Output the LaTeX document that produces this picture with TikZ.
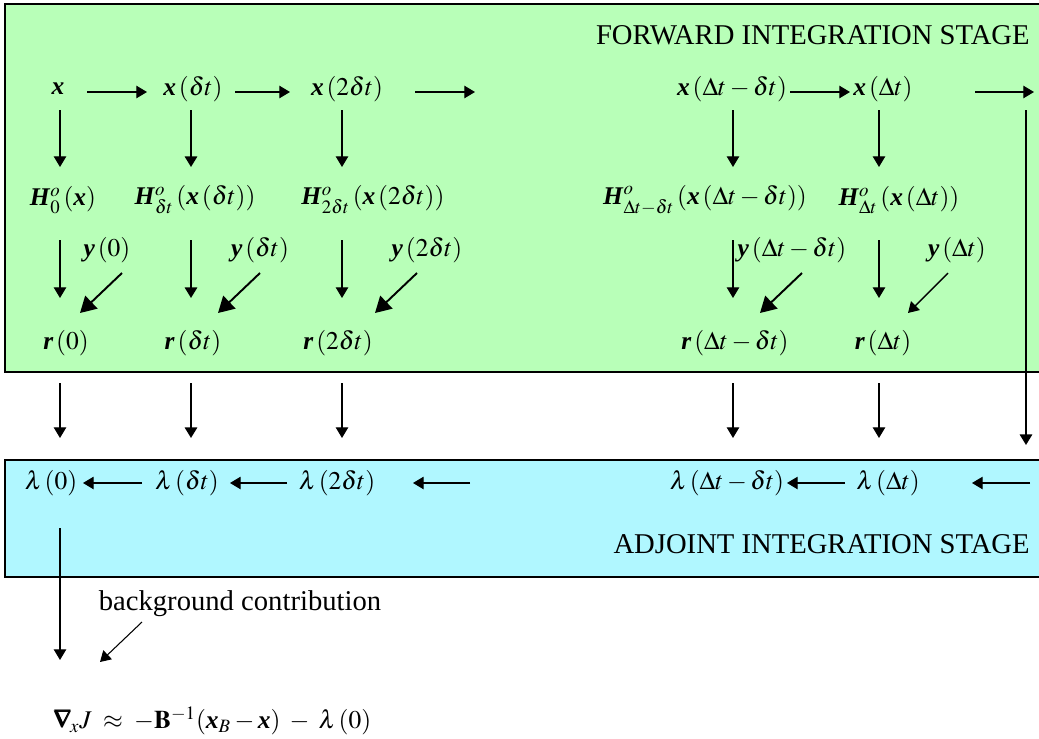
\documentclass[tikz,border=0pt]{standalone}
\usepackage{mathptmx}
\usepackage{bm}
\usepackage{fontspec}
\setmainfont{Liberation Serif}
\usetikzlibrary{arrows.meta,calc}
\definecolor{fwdgreen}{RGB}{184,255,184}
\definecolor{adjcyan}{RGB}{176,247,255}
\newcommand{\bv}[1]{\textbf{\textit{#1}}}

\begin{document}
\begin{tikzpicture}[x=0.02cm, y=-0.02cm, font=\fontsize{14.5}{17}\selectfont]
    \tikzset{lbl/.style={inner sep=0pt},
             word/.style={inner sep=0pt, font=\fontsize{16.3}{19}\selectfont},
             arr/.style={-{Triangle[length=6pt,width=7pt]}, line width=0.6pt},
             tarr/.style={-{Triangle[length=6pt,width=7pt]}, line width=1.1pt},
             diag/.style={-{Triangle[length=9pt,width=10pt]}, line width=1.1pt}}
    \useasboundingbox (0,0) rectangle (1039,738);
    \clip (0,0) rectangle (1039,738);

    % ---- Stage boxes ----
    \draw[fill=fwdgreen, line width=1.1pt] (5,4) rectangle (1060,372);
    \draw[fill=adjcyan, line width=1.1pt] (5,460) rectangle (1060,577);
    \node[word, anchor=east] (fwd) at (1030,35) {FORWARD INTEGRATION STAGE};
    \node[word, anchor=east] (adj) at (1030,544) {ADJOINT INTEGRATION STAGE};

    % ---- Forward states ----
    \node[lbl] (x0) at (58,89) {$\bv{x}$};
    \node[lbl] (x1) at (193,89) {$\bv{x}\,(\delta t)$};
    \node[lbl] (x2) at (347,89) {$\bv{x}\,(2\delta t)$};
    \node[lbl] (xm) at (732,89) {$\bv{x}\,(\Delta t-\delta t)$};
    \node[lbl] (xn) at (883,89) {$\bv{x}\,(\Delta t)$};
    \coordinate (xgap) at (475,92);
    \coordinate (xend) at (1034,92);

    % ---- Observation operators ----
    \node[lbl] (h0) at (63,200) {$\bv{H}^{o}_{0}\,(\bv{x})$};
    \node[lbl] (h1) at (195,200) {$\bv{H}^{o}_{\delta t}\,(\bv{x}\,(\delta t))$};
    \node[lbl] (h2) at (373,200) {$\bv{H}^{o}_{2\delta t}\,(\bv{x}\,(2\delta t))$};
    \node[lbl] (hm) at (705,200) {$\bv{H}^{o}_{\Delta t-\delta t}\,(\bv{x}\,(\Delta t-\delta t))$};
    \node[lbl] (hn) at (899,200) {$\bv{H}^{o}_{\Delta t}\,(\bv{x}\,(\Delta t))$};

    % ---- Observations ----
    \node[lbl] (y0) at (107,250) {$\bv{y}\,(0)$};
    \node[lbl] (y1) at (260,250) {$\bv{y}\,(\delta t)$};
    \node[lbl] (y2) at (427,250) {$\bv{y}\,(2\delta t)$};
    \node[lbl] (ym) at (792,250) {$\bv{y}\,(\Delta t-\delta t)$};
    \node[lbl] (yn) at (957,250) {$\bv{y}\,(\Delta t)$};

    % ---- Residuals ----
    \node[lbl] (r0) at (66,343) {$\bv{r}\,(0)$};
    \node[lbl] (r1) at (193,343) {$\bv{r}\,(\delta t)$};
    \node[lbl] (r2) at (338,343) {$\bv{r}\,(2\delta t)$};
    \node[lbl] (rm) at (735,343) {$\bv{r}\,(\Delta t-\delta t)$};
    \node[lbl] (rn) at (883,343) {$\bv{r}\,(\Delta t)$};

    % ---- Adjoint states ----
    \node[lbl] (l0) at (51,483) {$\lambda\,(0)$};
    \node[lbl] (l1) at (187,483) {$\lambda\,(\delta t)$};
    \node[lbl] (l2) at (337,483) {$\lambda\,(2\delta t)$};
    \node[lbl] (lm) at (727,483) {$\lambda\,(\Delta t-\delta t)$};
    \node[lbl] (ln) at (888,483) {$\lambda\,(\Delta t)$};
    \coordinate (lgap) at (470,483);
    \coordinate (lend) at (1030,483);

    % ---- Gradient ----
    \node[word] (bg) at (240,604) {background contribution};
    \node[lbl] (grad) at (212,721) {$\bm{\nabla}_{\!x} J \;\approx\; -\mathbf{B}^{-1}(\bv{x}_{B}-\bv{x}) \;-\; \lambda\,(0)$};

    % ---- Forward arrows ----
    \draw[arr] ($(x0)+(29,3)$) -- ($(x1)+(-46,3)$);
    \draw[arr] ($(x1)+(42,3)$) -- ($(x2)+(-57,3)$);
    \draw[arr] ($(x2)+(68,3)$) -- (xgap);
    \draw[arr] ($(xm)+(58,3)$) -- ($(xn)+(-33,3)$);
    \draw[arr] ($(xn)+(92,3)$) -- (xend);
    \draw[tarr] ($(xend)+(-8,18)$) -- ($(lend)+(-4,-38)$);

    \draw[arr] ($(x0)+(2,21)$) -- ($(h0)+(-3,-33)$);
    \draw[tarr] ($(x1)+(-2,21)$) -- ($(h1)+(-4,-33)$);
    \draw[arr] ($(x2)+(-5,21)$) -- ($(h2)+(-31,-33)$);
    \draw[arr] ($(xm)+(1,21)$) -- ($(hm)+(28,-33)$);
    \draw[arr] ($(xn)+(-4,21)$) -- ($(hn)+(-20,-33)$);

    \draw[arr] ($(h0)+(-3,40)$) -- ($(r0)+(-6,-45)$);
    \draw[tarr] ($(h1)+(-4,40)$) -- ($(r1)+(-2,-45)$);
    \draw[arr] ($(h2)+(-31,40)$) -- ($(r2)+(4,-45)$);
    \draw[arr] ($(hm)+(28,40)$) -- ($(rm)+(-2,-45)$);
    \draw[arr] ($(hn)+(-20,40)$) -- ($(rn)+(-4,-45)$);

    \draw[diag] ($(y0)+(15,23)$) -- ($(r0)+(14,-30)$);
    \draw[diag] ($(y1)+(0,23)$) -- ($(r1)+(25,-30)$);
    \draw[diag] ($(y2)+(-10,23)$) -- ($(r2)+(37,-30)$);
    \draw[diag] ($(ym)+(10,23)$) -- ($(rm)+(25,-30)$);
    \draw[arr, line width=0.8pt] ($(yn)+(-9,23)$) -- ($(rn)+(25,-30)$);

    % ---- Residuals forced into adjoint ----
    \draw[arr] ($(r0)+(-6,40)$) -- ($(l0)+(9,-45)$);
    \draw[tarr] ($(r1)+(-2,40)$) -- ($(l1)+(4,-45)$);
    \draw[arr] ($(r2)+(4,40)$) -- ($(l2)+(5,-45)$);
    \draw[arr] ($(rm)+(-2,40)$) -- ($(lm)+(6,-45)$);
    \draw[arr] ($(rn)+(-4,40)$) -- ($(ln)+(-9,-45)$);

    % ---- Adjoint arrows ----
    \draw[arr] ($(l1)+(-45,0)$) -- ($(l0)+(32,0)$);
    \draw[arr] ($(l2)+(-50,0)$) -- ($(l1)+(43,0)$);
    \draw[arr] (lgap) -- ($(l2)+(76,0)$);
    \draw[arr] ($(ln)+(-43,0)$) -- ($(lm)+(60,0)$);
    \draw[arr] (lend) -- ($(ln)+(84,0)$);

    \draw[arr] ($(l0)+(9,45)$) -- ($(grad)+(-152,-61)$);
    \draw[arr] ($(bg)+(-98,18)$) -- ($(bg)+(-140,58)$);
\end{tikzpicture}
\end{document}
